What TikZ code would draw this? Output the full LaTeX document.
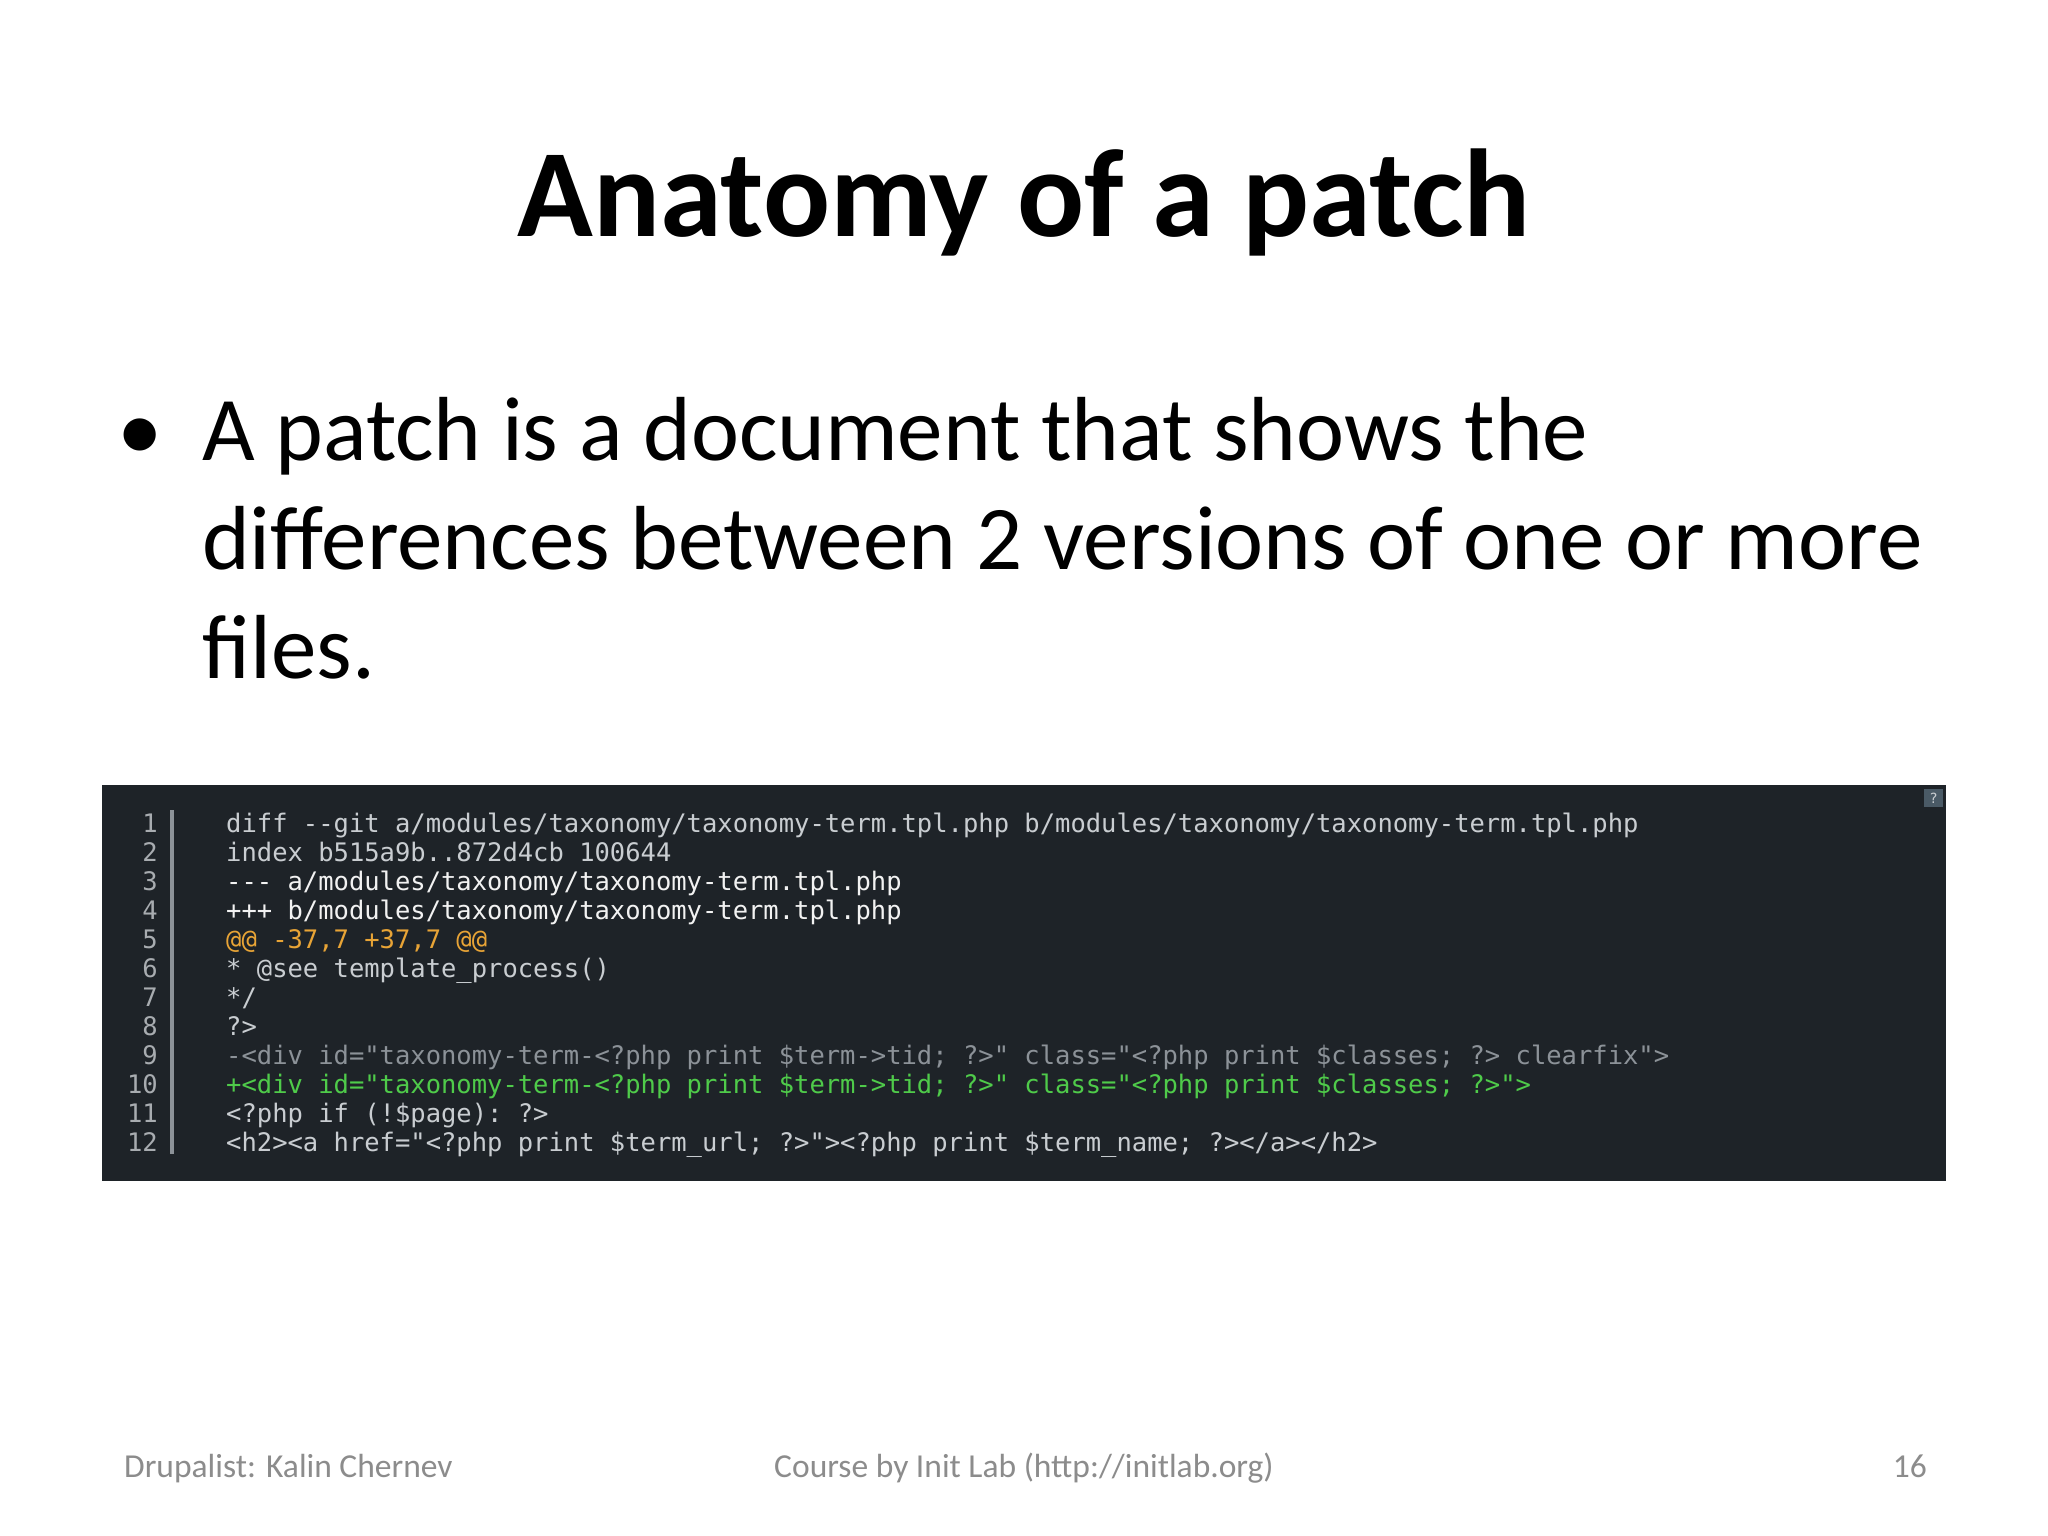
\documentclass[tikz,border=0pt]{standalone}
\usepackage{fontspec}
\setmainfont{Carlito}
\setmonofont{DejaVu Sans Mono}
\definecolor{codebg}{HTML}{1E2328}
\definecolor{codefg}{HTML}{C9CDD1}
\definecolor{codewhite}{HTML}{F2F2F2}
\definecolor{codeorange}{HTML}{E8A436}
\definecolor{codegray}{HTML}{8C9298}
\definecolor{codegreen}{HTML}{4FCB4A}
\definecolor{lnum}{HTML}{A8ACB0}
\definecolor{qbox}{HTML}{4A5A66}
\definecolor{foot}{HTML}{8C8C8C}
\begin{document}
\begin{tikzpicture}[x=1pt,y=-1pt,
  codeline/.style={anchor=base west,inner sep=0pt,font=\ttfamily\fontsize{25.5}{29}\selectfont},
  numline/.style={anchor=base east,inner sep=0pt,text=lnum,font=\ttfamily\fontsize{25.5}{29}\selectfont},
  bodytext/.style={anchor=base west,inner sep=0pt,font=\fontsize{91}{110}\selectfont},
  foottext/.style={inner sep=0pt,text=foot,font=\fontsize{33.5}{38}\selectfont}]
\useasboundingbox[fill=white] (0,0) rectangle (2048,1536);
\node[anchor=base,inner sep=0pt,font=\bfseries\fontsize{125}{150}\selectfont] (title) at (1024,236) {Anatomy of a patch};
\node[anchor=base,inner sep=0pt,font=\fontsize{91}{110}\selectfont] (bullet) at (140,460) {•};
\node[bodytext] (l1) at (202,460) {A patch is a document that shows the};
\node[bodytext] (l2) at (202,569) {differences between 2 versions of one or more};
\node[bodytext] (l3) at (202,678) {files.};
\fill[codebg] (102,785) rectangle (1946,1181);
\fill[codegray] (170,810) rectangle (174,1154);
\fill[qbox] (1924,789) rectangle (1943,807);
\node[inner sep=0pt,text=codefg,font=\ttfamily\fontsize{14}{14}\selectfont] (q) at (1933.5,798) {?};
\foreach \n [count=\i] in {1,...,12}{
  \node[numline] (n\i) at (158,{832+29*(\i-1)}) {\n};
}
\node[codeline,text=codefg] (c1) at (226,832) {diff --git a/modules/taxonomy/taxonomy-term.tpl.php b/modules/taxonomy/taxonomy-term.tpl.php};
\node[codeline,text=codefg] (c2) at (226,861) {index b515a9b..872d4cb 100644};
\node[codeline,text=codewhite] (c3) at (226,890) {--{}- a/modules/taxonomy/taxonomy-term.tpl.php};
\node[codeline,text=codewhite] (c4) at (226,919) {+++ b/modules/taxonomy/taxonomy-term.tpl.php};
\node[codeline,text=codeorange] (c5) at (226,948) {@@ -37,7 +37,7 @@};
\node[codeline,text=codefg] (c6) at (226,977) {* @see template\_process()};
\node[codeline,text=codefg] (c7) at (226,1006) {*/};
\node[codeline,text=codefg] (c8) at (226,1035) {?>};
\node[codeline,text=codegray] (c9) at (226,1064) {-<div id="taxonomy-term-<?php print \$term->tid; ?>" class="<?php print \$classes; ?> clearfix">};
\node[codeline,text=codegreen] (c10) at (226,1093) {+<div id="taxonomy-term-<?php print \$term->tid; ?>" class="<?php print \$classes; ?>">};
\node[codeline,text=codefg] (c11) at (226,1122) {<?php if (!\$page): ?>};
\node[codeline,text=codefg] (c12) at (226,1151) {<h2><a href="<?php print \$term\_url; ?>"><?php print \$term\_name; ?></a></h2>};
\node[foottext,anchor=base west] (f1) at (124,1477) {Drupalist: Kalin Chernev};
\node[foottext,anchor=base] (f2) at (1024,1477) {Course by Init Lab (http://initlab.org)};
\node[foottext,anchor=base east] (f3) at (1927,1477) {16};
\end{tikzpicture}
\end{document}
